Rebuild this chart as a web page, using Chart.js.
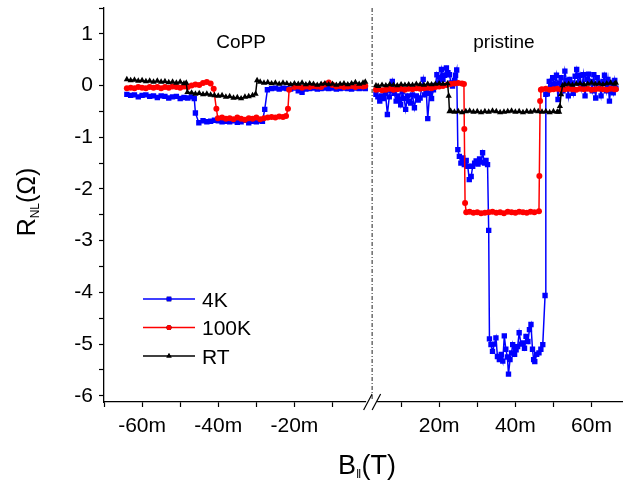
<!DOCTYPE html>
<html>
<head>
<meta charset="utf-8">
<script src="https://cdn.jsdelivr.net/npm/chart.js@4.4.1/dist/chart.umd.min.js"></script>
<style>
  html, body { margin: 0; padding: 0; background: #fff; }
  #wrap { width: 633px; height: 488px; }
</style>
</head>
<body>
<div id="wrap"><canvas id="chart" width="633" height="488"></canvas></div>
<script>
// B field in mT, R_NL in ohm

// --- CoPP panel (left, negative field) ---
const coppX4K = [-64,-63,-62,-61,-60,-59,-58,-57,-56,-55,-54,-53,-52,-51,-50,-49,-48,-47,
  -46.3,-46,-45.1,
  -44,-43,-42,-41,-40,-39,-38,-37,-36,-35,-34,-33,-32,-31,-30,-29,
  -28.4,-27.8,-27.1,
  -26,-25,-24,-23,-22,-21,-20,-19,-18,-17,-16,-15,-14,-13,-12,-11,-10,-9,-8,-7,-6,-5,-4,-3,-2,-1.4];
const copp4K = [-0.17,-0.19,-0.18,-0.22,-0.19,-0.18,-0.21,-0.2,-0.23,-0.2,-0.21,-0.24,-0.22,-0.21,-0.25,-0.23,-0.24,-0.22,
  -0.25,-0.53,-0.72,
  -0.68,-0.7,-0.69,-0.67,-0.68,-0.7,-0.69,-0.7,-0.68,-0.71,-0.7,-0.67,-0.72,-0.69,-0.7,-0.68,
  -0.69,-0.46,-0.08,
  -0.06,-0.05,-0.07,-0.05,-0.06,-0.07,-0.05,-0.1,-0.13,-0.07,-0.06,-0.05,-0.07,-0.06,-0.05,-0.06,-0.05,-0.07,-0.06,-0.05,-0.06,-0.07,-0.05,-0.06,-0.05,-0.06];

const coppX100K = [-64,-63,-62,-61,-60,-59,-58,-57,-56,-55,-54,-53,-52,-51,-50,-49,-48,-47,-46,-45,-44,-43,-42,
  -41.2,-40.5,-40.1,
  -39,-38,-37,-36,-35,-34,-33,-32,-31,-30,-29,-28,-27,-26,-25,-24,-23,
  -22.2,-21.7,-21.4,
  -20,-19,-18,-17,-16,-15,-14,-13,-12,-11,-10,-9,-8,-7,-6,-5,-4,-3,-2,-1.4];
const copp100K = [-0.05,-0.04,-0.05,-0.03,-0.04,-0.05,-0.03,-0.04,-0.03,-0.05,-0.03,-0.04,-0.02,-0.03,-0.04,-0.02,-0.03,0.0,0.02,0.01,0.05,0.07,0.04,
  -0.06,-0.45,-0.63,
  -0.62,-0.64,-0.63,-0.65,-0.62,-0.64,-0.66,-0.63,-0.64,-0.62,-0.65,-0.63,-0.62,-0.61,-0.62,-0.6,-0.61,
  -0.59,-0.45,-0.08,
  -0.03,-0.02,-0.04,-0.02,-0.03,-0.01,-0.02,-0.03,0.02,0.06,0.01,-0.02,-0.01,-0.03,-0.02,-0.01,-0.03,-0.01,-0.02,-0.01];

const coppXRT = [-64,-63,-62,-61,-60,-59,-58,-57,-56,-55,-54,-53,-52,-51,-50,-49,
  -48.4,-48.1,
  -47,-46,-45,-44,-43,-42,-41,-40,-39,-38,-37,-36,-35,-34,-33,-32,-31,
  -30.2,-29.8,
  -29,-28,-27,-26,-25,-24,-23,-22,-21,-20,-19,-18,-17,-16,-15,-14,-13,-12,-11,-10,-9,-8,-7,-6,-5,-4,-3,-2,-1.4];
const coppRT = [0.12,0.1,0.11,0.09,0.1,0.08,0.09,0.07,0.09,0.07,0.08,0.06,0.07,0.05,0.07,0.04,
  0.05,-0.13,
  -0.14,-0.16,-0.15,-0.17,-0.16,-0.18,-0.19,-0.2,-0.19,-0.22,-0.21,-0.24,-0.23,-0.25,-0.22,-0.21,-0.19,
  -0.16,0.1,
  0.07,0.05,0.06,0.04,0.05,0.03,0.05,0.04,0.02,0.04,0.03,0.05,0.02,0.04,0.03,0.01,0.03,0.04,0.02,0.03,0.01,0.03,0.04,0.02,0.04,0.06,0.03,0.05,0.07];

// --- pristine panel (right, positive field) ---
const prisX4K = [3.4,3.9,4.4,4.9,5.4,5.9,6.4,6.9,7.3,7.7,8.2,8.7,9.2,9.6,9.9,10.3,10.8,11.2,11.7,12.1,12.5,13,13.5,14,14.5,
  15,15.4,15.8,16.2,16.6,17,17.5,18,18.5,19,19.4,19.9,20.3,20.6,21,21.4,21.9,22.3,22.7,23.1,23.5,24,24.3,24.6,
  24.9,25.3,25.7,26.2,26.6,27.1,27.5,27.9,28.4,28.8,29.3,29.7,30.2,30.6,31,31.4,31.9,32.3,32.7,
  33,33.2,33.6,34,34.5,34.9,35.3,35.8,36.3,36.7,37.1,37.5,37.9,38.2,38.6,39,39.3,39.8,40.2,40.6,41,41.5,42,42.4,42.8,43.3,43.7,44.1,44.5,44.8,45.1,45.6,46.2,46.7,47.2,47.8,
  48,48.4,48.9,49.3,49.8,50.3,50.8,51.2,51.6,52,52.5,53,53.4,53.9,54.3,54.7,55.2,55.7,56.1,56.5,
  57,57.4,57.9,58.3,58.8,59.2,59.7,60.2,60.6,61.1,61.5,62,62.5,63,63.4,63.9,64.3,64.7,65.2,65.7,66.1,66.4];
const pris4K = [-0.17,-0.22,-0.3,-0.2,-0.25,-0.15,-0.56,-0.22,-0.1,0.08,-0.15,-0.3,-0.2,-0.27,-0.37,-0.12,-0.25,-0.46,-0.2,-0.3,-0.34,-0.18,-0.43,-0.2,-0.28,
  -0.24,-0.05,0.12,-0.18,-0.11,-0.64,-0.15,-0.25,-0.08,0.0,0.21,0.05,0.15,0.31,0.12,0.2,0.34,0.25,0.21,0.05,-0.01,0.1,0.2,0.3,
  -1.24,-1.37,-1.5,-1.4,-1.53,-1.45,-1.56,-1.82,-1.76,-1.56,-1.5,-1.46,-1.52,-1.42,-1.48,-1.3,-1.5,-1.45,-1.53,
  -2.8,-4.9,-5.01,-5.14,-5.0,-4.88,-5.24,-5.3,-5.2,-5.33,-4.84,-5.1,-5.25,-5.58,-5.3,-5.17,-5.01,-5.2,-5.11,-5.05,-4.78,-5.0,-4.98,-5.08,-4.85,-4.95,-4.72,-4.62,-5.1,-5.3,-5.34,-5.2,-5.17,-5.1,-5.01,-4.06,
  -0.17,-0.16,0.08,-0.05,0.15,0.02,0.2,-0.27,0.05,0.15,-0.1,0.28,0.1,-0.2,0.12,0.05,-0.15,0.18,0.31,0.05,
  0.2,-0.05,0.21,-0.2,0.12,0.22,0.08,-0.1,0.21,-0.24,0.15,0.05,-0.2,0.08,0.2,-0.1,0.12,-0.3,0.05,-0.14,0.1,-0.05];

const prisX100K = [3.4,4,5,6,7,8,9,10,11,12,13,14,15,16,17,18,19,20,21,22,23,24,25,26,
  26.5,26.6,26.8,27.1,
  28,29,30,31,32,33,34,35,36,37,38,39,40,41,42,43,44,45,
  46.2,46.3,46.5,46.7,
  47,48,49,50,51,52,53,54,55,56,57,58,59,60,61,62,63,64,65,66,66.4];
const pris100K = [-0.08,-0.07,-0.09,-0.08,-0.06,-0.08,-0.07,-0.06,-0.08,-0.06,-0.07,-0.05,-0.06,-0.05,-0.04,-0.05,-0.03,-0.02,-0.01,0.01,0.03,0.04,0.05,0.04,
  0.03,-0.84,-2.27,-2.45,
  -2.44,-2.46,-2.45,-2.47,-2.46,-2.45,-2.44,-2.46,-2.45,-2.47,-2.44,-2.45,-2.46,-2.44,-2.45,-2.46,-2.44,-2.45,
  -2.43,-1.75,-0.3,-0.08,
  -0.07,-0.06,-0.08,-0.07,-0.06,-0.08,-0.07,-0.06,-0.07,-0.08,-0.06,-0.07,-0.06,-0.08,-0.07,-0.06,-0.07,-0.08,-0.06,-0.07,-0.07];

const prisXRT = [3.4,4,5,6,7,8,9,10,11,12,13,14,15,16,17,18,19,20,21,
  22.2,22.5,22.7,
  23,24,25,26,27,28,29,30,31,32,33,34,35,36,37,38,39,40,41,42,43,44,45,46,47,48,49,50,51,
  51.5,51.7,52,52.4,
  53,54,55,56,57,58,59,60,61,62,63,64,65,66,66.4];
const prisRT = [0.0,-0.01,0.01,0.0,0.02,0.01,0.0,0.02,0.01,0.02,0.01,0.03,0.02,0.01,0.03,0.02,0.03,0.04,0.03,
  0.04,-0.2,-0.5,
  -0.49,-0.51,-0.5,-0.52,-0.5,-0.49,-0.51,-0.5,-0.52,-0.5,-0.51,-0.49,-0.5,-0.52,-0.51,-0.5,-0.49,-0.51,-0.5,-0.52,-0.5,-0.51,-0.49,-0.5,-0.51,-0.5,-0.52,-0.5,-0.51,
  -0.51,-0.4,-0.17,0.0,
  0.02,0.03,0.01,0.03,0.04,0.02,0.03,0.05,0.03,0.04,0.02,0.04,0.05,0.03,0.05];

// axis ticks
const yTicks = [-6,-5.5,-5,-4.5,-4,-3.5,-3,-2.5,-2,-1.5,-1,-0.5,0,0.5,1,1.5];
const xLeftTicks = [-70,-60,-50,-40,-30,-20,-10];
const xLeftLabels = ['', '-60m', '', '-40m', '', '-20m', ''];
const xRightTicks = [10,20,30,40,50,60];
const xRightLabels = ['', '20m', '', '40m', '', '60m'];

const seriesNames = ['4K', '100K', 'RT'];
const seriesColors = ['#0000ff', '#ff0000', '#000000'];
const seriesMarkers = ['rect', 'circle', 'triangle'];
const markerSizes = [3.8, 3, 3.6];
const panelNames = ['CoPP', 'pristine'];

const FONT = "'Liberation Sans', Arial, Helvetica, sans-serif";

function pts(xs, ys) {
  return xs.map((x, i) => ({ x: x, y: ys[i] }));
}

function makeSet(k, xs, ys, axis) {
  return {
    label: seriesNames[k],
    data: pts(xs, ys),
    xAxisID: axis,
    yAxisID: 'y',
    showLine: true,
    borderColor: seriesColors[k],
    backgroundColor: seriesColors[k],
    borderWidth: 1.5,
    pointStyle: seriesMarkers[k],
    pointRadius: markerSizes[k],
    pointBorderWidth: 0,
    pointBackgroundColor: seriesColors[k],
    tension: 0,
    order: 3 - k
  };
}

function tickAxis(extra) {
  return Object.assign({
    type: 'linear',
    position: 'bottom',
    grid: { display: true, drawOnChartArea: false, drawTicks: true, tickLength: 5, tickColor: '#000', tickWidth: 1.2 },
    border: { display: true, color: '#000', width: 1.3 },
    afterFit: s => { s.height = 86; s.paddingLeft = 0; s.paddingRight = 0; }
  }, extra);
}

// decorations: divider, axis break, panel names, legend, axis titles
const decor = {
  id: 'decor',
  afterDraw(chart) {
    const { ctx, chartArea: a, scales } = chart;
    const cut = scales.xL.right + 1.5;
    ctx.save();

    ctx.strokeStyle = '#222';
    ctx.lineWidth = 1;
    ctx.setLineDash([4, 2, 1, 2]);
    ctx.beginPath();
    ctx.moveTo(cut, a.top);
    ctx.lineTo(cut, a.bottom - 1);
    ctx.stroke();
    ctx.setLineDash([]);

    ctx.fillStyle = '#fff';
    ctx.fillRect(cut - 6, a.bottom - 2, 11, 4);
    ctx.strokeStyle = '#000';
    ctx.lineWidth = 1.2;
    [cut - 4.5, cut + 4].forEach(cx => {
      ctx.beginPath();
      ctx.moveTo(cx - 4, a.bottom + 8);
      ctx.lineTo(cx + 4.5, a.bottom - 8);
      ctx.stroke();
    });

    ctx.fillStyle = '#000';
    ctx.textAlign = 'center';
    ctx.textBaseline = 'alphabetic';
    ctx.font = '19px ' + FONT;
    ctx.fillText(panelNames[0], scales.xL.getPixelForValue(-34), 47.5);
    ctx.fillText(panelNames[1], scales.xR.getPixelForValue(37), 47.5);

    // legend
    ctx.textAlign = 'left';
    ctx.font = '21px ' + FONT;
    const rows = [299, 327.5, 356];
    seriesNames.forEach((name, k) => {
      const y = rows[k];
      ctx.strokeStyle = seriesColors[k];
      ctx.lineWidth = 1.5;
      ctx.beginPath();
      ctx.moveTo(143, y);
      ctx.lineTo(195, y);
      ctx.stroke();
      Chart.helpers.drawPoint(ctx, { pointStyle: seriesMarkers[k], radius: markerSizes[k] * 0.85, borderWidth: 0 }, 169, y);
      ctx.fillStyle = seriesColors[k];
      ctx.fill();
      ctx.fillStyle = '#000';
      ctx.fillText(name, 202, y + 7.5);
    });

    // x title: B|| (T)
    const big = '27px ' + FONT, small = '13px ' + FONT;
    ctx.font = big;
    const wB = ctx.measureText('B').width, wT = ctx.measureText('(T)').width;
    ctx.font = small;
    const wS = ctx.measureText('\u2016').width;
    let x0 = 367 - (wB + wS + wT) / 2;
    ctx.font = big; ctx.fillText('B', x0, 474);
    ctx.font = small; ctx.fillText('\u2016', x0 + wB, 478);
    ctx.font = big; ctx.fillText('(T)', x0 + wB + wS, 474);

    // y title: R_NL (Ohm)
    const bigY = '25px ' + FONT, smallY = '12px ' + FONT;
    ctx.save();
    ctx.translate(35, 202);
    ctx.rotate(-Math.PI / 2);
    ctx.font = bigY;
    const wR = ctx.measureText('R').width, wO = ctx.measureText('(\u03A9)').width;
    ctx.font = smallY;
    const wN = ctx.measureText('NL').width;
    x0 = -(wR + wN + wO) / 2;
    ctx.font = bigY; ctx.fillText('R', x0, 0);
    ctx.font = smallY; ctx.fillText('NL', x0 + wR, 4);
    ctx.font = bigY; ctx.fillText('(\u03A9)', x0 + wR + wN, 0);
    ctx.restore();

    ctx.restore();
  }
};

const tickFont = { family: FONT, size: 21 };

new Chart(document.getElementById('chart'), {
  type: 'scatter',
  data: {
    datasets: [
      makeSet(0, coppX4K, copp4K, 'xL'),
      makeSet(1, coppX100K, copp100K, 'xL'),
      makeSet(2, coppXRT, coppRT, 'xL'),
      makeSet(0, prisX4K, pris4K, 'xR'),
      makeSet(1, prisX100K, pris100K, 'xR'),
      makeSet(2, prisXRT, prisRT, 'xR')
    ]
  },
  options: {
    responsive: false,
    animation: false,
    devicePixelRatio: 1,
    layout: { padding: { top: 8, right: 11, left: 0, bottom: 0 } },
    plugins: { legend: { display: false }, tooltip: { enabled: false } },
    scales: {
      xL: tickAxis({
        min: -70, max: 0, stack: 'bx', stackWeight: 70, weight: 0,
        afterBuildTicks: s => { s.ticks = xLeftTicks.map(v => ({ value: v })); },
        ticks: { color: '#000', font: tickFont, padding: 7, maxRotation: 0, autoSkip: false,
          callback: (v, i) => xLeftLabels[i] }
      }),
      xR: tickAxis({
        min: 2, max: 68, stack: 'bx', stackWeight: 66, weight: 1,
        afterBuildTicks: s => { s.ticks = xRightTicks.map(v => ({ value: v })); },
        ticks: { color: '#000', font: tickFont, padding: 7, maxRotation: 0, autoSkip: false,
          callback: (v, i) => xRightLabels[i] }
      }),
      y: {
        type: 'linear',
        position: 'left',
        min: -6.12, max: 1.5,
        afterBuildTicks: s => { s.ticks = yTicks.map(v => ({ value: v })); },
        grid: { display: true, drawOnChartArea: false, drawTicks: true, tickLength: 5, tickColor: '#000', tickWidth: 1.2 },
        border: { display: true, color: '#000', width: 1.3 },
        ticks: { color: '#000', font: tickFont, padding: 6, autoSkip: false,
          callback: v => Number.isInteger(v) ? String(v) : '' },
        afterFit: s => { s.width = 104; s.paddingTop = 0; s.paddingBottom = 0; }
      }
    }
  },
  plugins: [decor]
});
</script>
</body>
</html>
